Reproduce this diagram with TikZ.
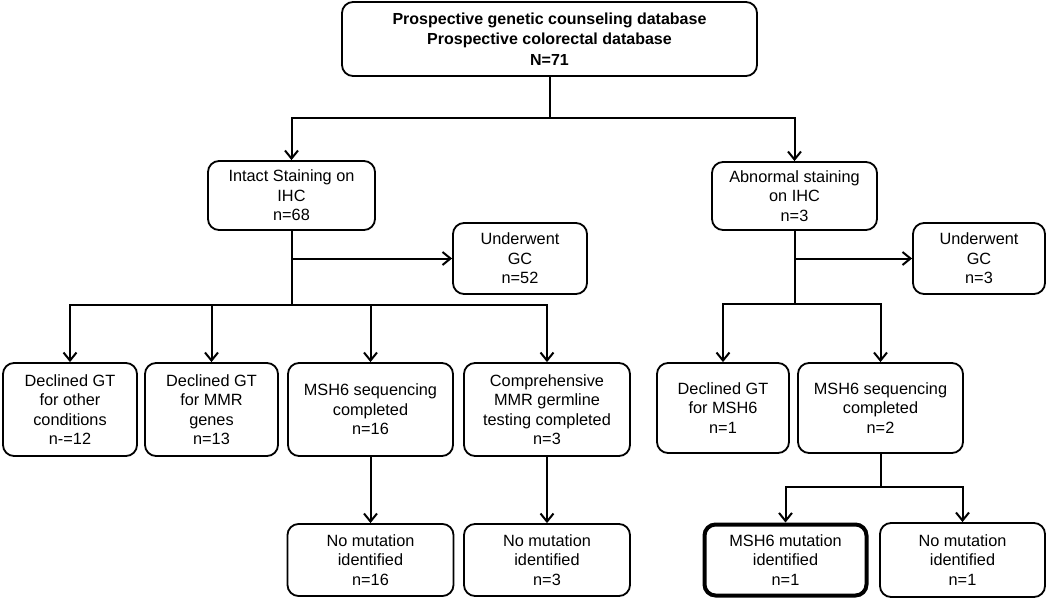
\documentclass[tikz,border=0pt]{standalone}
\usepackage{fontspec}
\setmainfont{Liberation Sans}
\usetikzlibrary{arrows.meta}
\begin{document}
\begin{tikzpicture}[x=1pt,y=-1pt,
  box/.style={draw, rounded corners=11pt, line width=1.8pt, align=center, inner sep=0pt,
    font=\fontsize{16.3}{19.5}\selectfont},
  arr/.style={line width=2pt, -{Straight Barb[length=8pt,width=13pt,line width=2pt]}},
  ln/.style={line width=2pt}]
\useasboundingbox (0,0) rectangle (1050,605);
% nodes
\node[box, minimum width=415pt, minimum height=74pt, font=\fontsize{16}{20.5}\selectfont\bfseries] (top) at (549.5,39)
  {Prospective genetic counseling database\\Prospective colorectal database\\N=71};
\node[box, minimum width=167pt, minimum height=69pt] (intact) at (291.5,195.5) {Intact Staining on\\IHC\\n=68};
\node[box, minimum width=165pt, minimum height=68pt] (abn) at (794.5,196) {Abnormal staining\\on IHC\\n=3};
\node[box, minimum width=134pt, minimum height=71pt] (ugcA) at (520,258.5) {Underwent\\GC\\n=52};
\node[box, minimum width=132pt, minimum height=71pt] (ugcB) at (979,258.5) {Underwent\\GC\\n=3};
\node[box, minimum width=134pt, minimum height=93pt] (d1) at (70,409.5) {Declined GT\\for other\\conditions\\n-=12};
\node[box, minimum width=133pt, minimum height=93pt] (d2) at (211.5,409.5) {Declined GT\\for MMR\\genes\\n=13};
\node[box, minimum width=165pt, minimum height=93pt] (m1) at (370.5,409.5) {MSH6 sequencing\\completed\\n=16};
\node[box, minimum width=166pt, minimum height=93pt] (c1) at (547,409.5) {Comprehensive\\MMR germline\\testing completed\\n=3};
\node[box, minimum width=132pt, minimum height=90pt] (dm) at (723,408) {Declined GT\\for MSH6\\n=1};
\node[box, minimum width=165pt, minimum height=90pt] (ms) at (880.5,408) {MSH6 sequencing\\completed\\n=2};
\node[box, minimum width=166pt, minimum height=72pt] (n16) at (370.5,560) {No mutation\\identified\\n=16};
\node[box, minimum width=166pt, minimum height=72pt] (n3) at (547,560) {No mutation\\identified\\n=3};
\node[box, line width=4pt, minimum width=162pt, minimum height=71pt] (mm) at (785.5,560) {MSH6 mutation\\identified\\n=1};
\node[box, minimum width=165pt, minimum height=74pt] (n1) at (962.5,560) {No mutation\\identified\\n=1};
% junctions
\coordinate (tj) at (549.5,118);
\coordinate (lj) at (291.5,305);
\coordinate (rj) at (794.5,304);
\coordinate (mj) at (880.5,487);
% connectors
\draw[ln] (top.south) -- (tj);
\draw[arr] (tj) -| (intact.north);
\draw[arr] (tj) -| (abn.north);
\draw[ln] (intact.south) -- (lj);
\draw[arr] (intact.south |- ugcA.west) -- (ugcA.west);
\draw[arr] (lj) -| (d1.north);
\draw[arr] (lj) -| (d2.north);
\draw[arr] (lj) -| (m1.north);
\draw[arr] (lj) -| (c1.north);
\draw[ln] (abn.south) -- (rj);
\draw[arr] (abn.south |- ugcB.west) -- (ugcB.west);
\draw[arr] (rj) -| (dm.north);
\draw[arr] (rj) -| (ms.north);
\draw[arr] (m1.south) -- (n16.north);
\draw[arr] (c1.south) -- (n3.north);
\draw[ln] (ms.south) -- (mj);
\draw[arr] (mj) -| (mm.north);
\draw[arr] (mj) -| (n1.north);
\end{tikzpicture}
\end{document}
